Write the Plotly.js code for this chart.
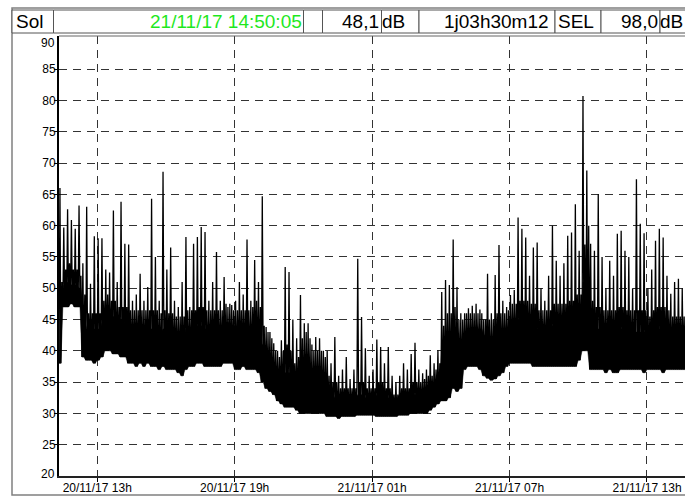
<!DOCTYPE html>
<html><head><meta charset="utf-8">
<script src="https://cdn.plot.ly/plotly-3.0.1.min.js"></script>
<style>html,body{margin:0;padding:0;overflow:hidden;background:#fff}#chart{width:690px;height:497px}</style>
</head><body><div id="chart"></div>
<script>
// ---- data (10-minute bins from the start time) ----
const startTime = '2017-11-20 11:19:53';
const endTime = '2017-11-21 14:50:05';
const binMinutes = 10;
// lower envelope of each bin (dB)
const lowDb = [
 38,47,47,47.5,47,47,39,38.5,38.5,38,
 38.5,39,40,40,39.5,39.5,39,39,38,38,
 37.5,38,37.5,38,37.5,37.5,37,37.5,37,37,
 37,36.5,36,37,37.5,37.5,38,38,37.5,37.5,
 37.5,37.5,37.5,38,38,38,37,37,37.5,37,
 37,37,36.5,35,34,33.5,33,32,31.5,31,
 31,31,30.5,30,30,30,30,30,30,30,
 29.5,29.5,29.5,29.2,29.5,29.5,29.5,29.5,29.7,29.7,
 29.7,29.7,29.7,29.5,29.5,29.5,29.5,29.5,29.5,29.7,
 29.7,29.7,30,30,30,30,30,30.5,31,31.5,
 32,32,32.5,34,33.5,34,37,37.5,37.5,37.5,
 37,36,35.6,35.3,35.5,36,36.5,37.5,38,38,
 38,38,38,38,37.5,37.5,37.5,37.5,37.5,37.5,
 37.5,37.5,37.5,37.5,37.5,37.5,38.5,40,40,37,
 37,37,37,36.5,37,36.5,36.5,37,37,37,
 37,37,37,36.5,37,37,37,37,36.5,37,
 37,37,37,37,37
];
// level up to which each bin is solid black (dB)
const solidDb = [
 49,50.5,51,50.5,50.5,50,45,43.5,43.5,43.5,
 43.5,44.5,46,45.5,45.5,45,45,44.5,44,43.5,
 43.5,43.5,43.5,43.5,43.5,43.5,43,43.5,43,43,
 42.5,42.5,42.5,43.5,43.5,43.5,44,44,43.5,43.5,
 43.5,43.5,43.5,44.5,44.5,44,43.5,43.5,43.5,43.5,
 44,44.5,43.5,41,39.5,38.5,37,36,36,36.5,
 36.5,35.5,35.5,37.5,38.5,37.5,36.5,36,35.5,35,
 33.5,33,32.5,32.5,32.5,32.5,32.5,32.5,33,33,
 32.5,32.5,32.5,33,33,32.5,32.5,32,32,32.5,
 32.5,32.5,33,33,33,33.5,34,34,34.5,35.5,
 40,42,42,43,41,41,43,43.5,43.5,43.5,
 43.5,42.5,42,42,42.5,42.5,43,43.5,44.5,44.5,
 45,45,45,44.5,44,43.5,43.5,43.5,43.5,44,
 44,44,44,44.5,44.5,45.5,45.5,51,53,44.5,
 43.5,43.5,43,43,43,43,43.5,43.5,43,43,
 43,43,43,43,42.5,43,43.5,43.5,43.5,43,
 42.5,42.5,42.5,42.5,42.5
];
// upper edge of the dense band in each bin (dB)
const bandDb = [
 51,53,54,53,53,52,49,46,46,46,
 46,48,49,48,48,47,47,47,46.5,46.5,
 46.5,46.5,46.5,46.5,46.5,46.5,46,46.5,46,46,
 45.5,45.5,45.5,46.5,46.5,46.5,47,47,46.5,46.5,
 46.5,46.5,46.5,47.5,47.5,46.5,46.5,46.5,46.5,46.5,
 47,48,47,44,43,42,40,39,40,41,
 40,38,39,42,43,42,40,40,40,39,
 36,35,35,34,34,34,34,34,35,35,
 34,34,34,35,35,34,34,33,33,34,
 34,34,35,35,35,35.5,36,36,37,38,
 44,46,46,47,45,45,46,46,46,46,
 46,45,45,45,46,46,46,46.5,47.5,47.5,
 48,48,48,47.5,47.5,46.5,46.5,46.5,46.5,47.5,
 47.5,47.5,47.5,48,48,49,49,57,60,48,
 47,47,46.5,46.5,46.5,46.5,47,47,46.5,46.5,
 46.5,46.5,46.5,46.5,45.5,46.5,47,47,47,46.5,
 45.5,45.5,45.5,45.5,45.5
];
// highest spike in each bin (dB)
const peakDb = [
 66,59.7,62.6,60.9,59.5,63.2,54,63,50.7,58.3,
 58,58,53,52.5,62.4,51,63.8,57.1,57,48,
 49,52.3,48,50.2,64.3,55,48,68.6,53,56.5,
 48,47,51,58.2,47,57.1,58.2,59.8,59,48,
 51,55.8,48,51.8,47,47.3,48,51,49,57.8,
 48,54.5,51,64.7,43.8,43,41.2,40,41.7,53.4,
 52.6,45,42,48.9,44.4,44.4,41,42.2,42,40,
 40,38,42.2,36,37,39,35.5,37,54.7,45.4,
 40.4,36,37,41.8,40.6,38,40.6,36,35,36,
 38,37,39.5,41.3,37,36.4,37,39.3,38,40.1,
 49.4,51.3,50.5,57.8,50.2,46,46,46.8,47.2,47.5,
 46.6,45,52.3,46,52.1,56.9,48,47,48.9,49.7,
 61.3,59.5,58.1,52,56.5,57.3,50,48,52,60,
 54.4,52,54,58.4,58.9,63.4,56,80.7,68.8,57.1,
 56,65,55,50,54.4,52,58.7,59.2,56,55,
 50,67.4,60.3,58.8,50,53,57.6,59.5,58.1,52,
 49.1,51,51.5,50,48
];
const xTickTimes = ['2017-11-20 13:00','2017-11-20 19:00','2017-11-21 01:00','2017-11-21 07:00','2017-11-21 13:00'];
const xTickLabels = ['20/11/17 13h','20/11/17 19h','21/11/17 01h','21/11/17 07h','21/11/17 13h'];
const yTickValues = [25,30,35,40,45,50,55,60,65,70,75,80,85];
const yTickLabels = ['25','30','35','40','45','50','55','60','65','70','75','80','85'];
const yBottomLabel = '20';
const yTopLabel = '90';
const headerName = 'Sol';
const headerDate = '21/11/17 14:50:05';
const headerLevel = '48,1';
const headerUnit = 'dB';
const headerDuration = '1j03h30m12';
const headerSelName = 'SEL';
const headerSel = '98,0';

// ---- build ----
function toMs(s){const [d,t]=s.split(' ');const [Y,M,D]=d.split('-').map(Number);const p=t.split(':').map(Number);return Date.UTC(Y,M-1,D,p[0],p[1],p[2]||0);}
const t0 = toMs(startTime), t1 = toMs(endTime), bin = binMinutes*60000;
const xs=[], ys=[];
for(let i=0;i<lowDb.length;i++){
  const t=t0+i*bin;
  xs.push(t, t+bin*0.25, t+bin*0.5, t+bin*0.75);
  ys.push(lowDb[i], peakDb[i], lowDb[i], bandDb[i]);
}
const bx=[], by=[];
for(let i=0;i<lowDb.length;i++){const t=t0+i*bin; bx.push(t, t+bin*0.5); by.push(lowDb[i], lowDb[i]);}
for(let i=solidDb.length-1;i>=0;i--){const t=t0+i*bin; bx.push(t+bin*0.75, t+bin*0.25); by.push(solidDb[i], solidDb[i]);}

const W=690,H=497,L=59,R=1,T=36,B=21;
const PW=W-L-R, PH=H-T-B;
const px=x=>(x-L)/PW, py=y=>(H-B-y)/PH;
const FONT='"Liberation Sans", Arial, sans-serif';

const shapes=[];
shapes.push({type:'rect',xref:'paper',yref:'paper',x0:px(12),x1:px(720),y0:py(495),y1:py(8),line:{color:'#808080',width:1.5},fillcolor:'rgba(0,0,0,0)'});
const edges=[12,53.5,303.5,322.5,381.5,419,555,601,660,720];
for(let i=0;i<edges.length-1;i++){
  shapes.push({type:'rect',xref:'paper',yref:'paper',x0:px(edges[i]),x1:px(edges[i+1]),y0:py(33),y1:py(10),line:{color:'#555',width:1},fillcolor:'#fff'});
}
shapes.push({type:'line',xref:'paper',yref:'paper',x0:px(59),x1:px(720),y0:py(36),y1:py(36),line:{color:'#666',width:1}});

const hy=py(21.5);
function hdr(text,x,anchor,color){return {xref:'paper',yref:'paper',x:px(x),y:hy,xanchor:anchor,yanchor:'middle',text:text,showarrow:false,font:{family:FONT,size:19,color:color||'#000'}};}
const annotations=[
  hdr(headerName,14,'left'),
  hdr(headerDate,304,'right','#1ee81e'),
  hdr(headerLevel,381,'right'),
  hdr(headerUnit,380,'left'),
  hdr(headerDuration,551,'right'),
  hdr(headerSelName,556,'left'),
  hdr(headerSel,660,'right'),
  hdr(headerUnit,658,'left'),
  {xref:'paper',yref:'y',x:px(57),y:90,yshift:-5.5,xanchor:'right',yanchor:'middle',text:yTopLabel,showarrow:false,font:{family:FONT,size:12,color:'#000'}},
  {xref:'paper',yref:'y',x:px(57),y:20,yshift:2,xanchor:'right',yanchor:'middle',text:yBottomLabel,showarrow:false,font:{family:FONT,size:12,color:'#000'}}
];

const band={type:'scatter',mode:'lines',x:bx,y:by,fill:'toself',fillcolor:'#000',line:{color:'#000',width:0.5,simplify:false},hoverinfo:'skip'};
const trace={type:'scatter',mode:'lines',x:xs,y:ys,line:{color:'#000',width:1.3,simplify:false},hoverinfo:'skip'};
const layout={
  width:W,height:H,margin:{l:L,r:R,t:T,b:B,pad:0},
  paper_bgcolor:'#fff',plot_bgcolor:'#fff',showlegend:false,
  font:{family:FONT,size:12,color:'#000'},
  xaxis:{type:'date',range:[t0,t1],tickmode:'array',tickvals:xTickTimes.map(toMs),ticktext:xTickLabels,
    ticks:'outside',ticklen:4,tickcolor:'#000',tickwidth:1,ticklabelstandoff:-4,showline:true,linecolor:'#222',linewidth:1.5,
    showgrid:true,gridcolor:'#333',gridwidth:1,griddash:'8px,6px',zeroline:false,tickfont:{family:FONT,size:12,color:'#000'}},
  yaxis:{range:[20,90.3],tickmode:'array',tickvals:yTickValues,ticktext:yTickLabels,
    ticks:'outside',ticklen:3,tickcolor:'#000',tickwidth:1,ticklabelstandoff:-4,showline:true,linecolor:'#000',linewidth:2,
    showgrid:true,gridcolor:'#333',gridwidth:1,griddash:'8px,6px',zeroline:false,tickfont:{family:FONT,size:12,color:'#000'}},
  shapes:shapes,annotations:annotations
};
Plotly.newPlot('chart',[band,trace],layout,{staticPlot:true,displayModeBar:false});
</script></body></html>
